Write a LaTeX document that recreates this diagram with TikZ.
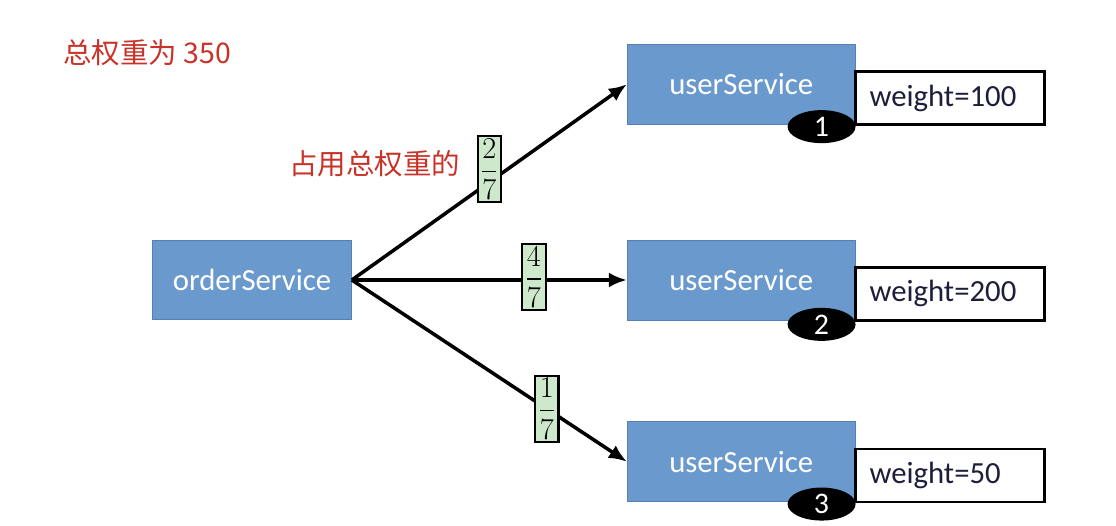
\documentclass[tikz,border=0pt]{standalone}
\usepackage{amsmath}
\usepackage[no-math]{fontspec}
\setmainfont{Carlito}
\newfontfamily\cjk{Noto Sans CJK SC}
\usetikzlibrary{shapes.geometric, arrows.meta, positioning}
\definecolor{svcblue}{RGB}{106,153,206}
\definecolor{svcedge}{RGB}{84,128,182}
\definecolor{sharegreen}{RGB}{206,232,204}
\definecolor{notered}{RGB}{200,50,40}
\definecolor{weighttext}{RGB}{30,30,60}
\tikzstyle{service}=[rectangle, draw=svcedge, fill=svcblue, text=white, minimum width=3.98cm, minimum height=1.58cm, font=\fontsize{17.5}{20}\selectfont]
\tikzstyle{user}=[service, minimum width=4.56cm, minimum height=1.6cm]
\tikzstyle{weightbox}=[rectangle, draw=black, line width=1.6pt, fill=white, minimum width=3.78cm, minimum height=1.06cm, inner sep=0pt, outer sep=0pt, text width=3.22cm, align=left, text=weighttext, font=\fontsize{17.5}{20}\selectfont]
\tikzstyle{badge}=[ellipse, fill=black, text=white, minimum width=1.36cm, minimum height=0.66cm, inner sep=0pt, font=\fontsize{17}{18}\selectfont]
\tikzstyle{share}=[rectangle, draw=black, line width=1.2pt, fill=sharegreen, inner sep=1.5pt, font=\fontsize{17}{20}\selectfont]
\tikzstyle{note}=[text=notered, inner sep=0pt, font=\cjk\fontsize{16.2}{18}\selectfont]
\tikzstyle{arrow}=[-{Latex[length=0.36cm,width=0.3cm]}, line width=2pt]

\begin{document}
\begin{tikzpicture}
\useasboundingbox (0,0) rectangle (22.32,-10.52);

% Caller
\node[service] (order) at (5.04,-5.60) {orderService};

% Providers
\node[user, right=5.5cm of order] (u2) {userService};
\node[user, above=2.3cm of u2] (u1) {userService};
\node[user, below=2.02cm of u2] (u3) {userService};

% Weights
\node[weightbox, above right=0cm and 0cm of u1.south east] (w1) {weight=100};
\node[weightbox, above right=0cm and 0cm of u2.south east] (w2) {weight=200};
\node[weightbox, above right=0cm and 0cm of u3.south east] (w3) {weight=50};

% Numbers
\node[badge] (b1) at ([xshift=-0.68cm, yshift=-0.04cm]u1.south east) {1};
\node[badge] (b2) at ([xshift=-0.68cm, yshift=-0.08cm]u2.south east) {2};
\node[badge] (b3) at ([xshift=-0.68cm, yshift=-0.04cm]u3.south east) {3};

% Calls with their shares
\draw[arrow] (order.east) -- node[share, pos=0.5, yshift=0.26cm] (f1) {$\dfrac{2}{7}$} (u1.west);
\draw[arrow] (order.east) -- node[share, pos=0.662, yshift=0.06cm] (f2) {$\dfrac{4}{7}$} (u2.west);
\draw[arrow] (order.east) -- node[share, pos=0.709] (f3) {$\dfrac{1}{7}$} (u3.west);

% Notes
\node[note] (total) at (2.94,-1.06) {总权重为 350};
\node[note, left=0.32cm of f1, yshift=0.1cm] (part) {占用总权重的};

\end{tikzpicture}
\end{document}
